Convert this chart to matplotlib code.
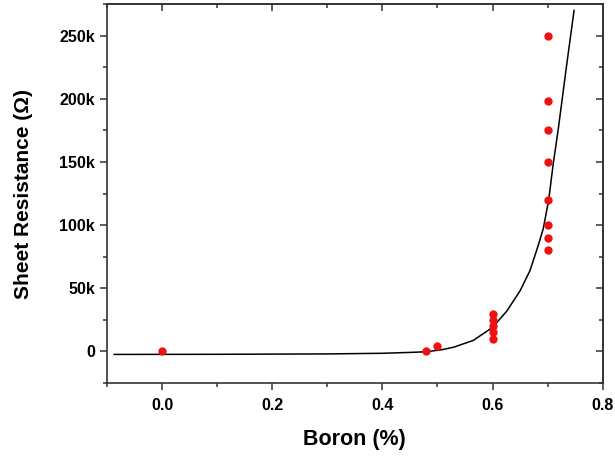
import matplotlib
matplotlib.use('Agg')
import matplotlib.pyplot as plt
from matplotlib.ticker import MultipleLocator, FuncFormatter

# Measured points
boron = [0.0, 0.48, 0.5, 0.6, 0.6, 0.6, 0.6, 0.6,
         0.7, 0.7, 0.7, 0.7, 0.7, 0.7, 0.7, 0.7]
resistance = [0, 500, 4000, 10000, 15000, 20000, 25000, 30000,
              80000, 90000, 100000, 120000, 150000, 175000, 198000, 250000]

# Fit curve
fit_x = [-0.087, 0.1, 0.3, 0.4, 0.45, 0.48, 0.51, 0.53, 0.565, 0.6,
         0.626, 0.65, 0.668, 0.683, 0.692, 0.702, 0.71, 0.719, 0.734, 0.748]
fit_y = [-2400, -2300, -2000, -1500, -800, -300, 1500, 3400, 8700, 19000,
         32000, 48000, 64000, 84000, 97000, 120000, 148000, 175000, 225000, 270000]

plt.rcParams['font.family'] = ['Liberation Sans', 'DejaVu Sans']

fig = plt.figure(figsize=(6.15, 4.57), dpi=100)
ax = fig.add_axes([0.174, 0.162, 0.806, 0.829])

ax.plot(fit_x, fit_y, color='black', linewidth=1.1, zorder=2)
ax.plot(boron, resistance, 'o', color='#ee1111', markersize=6,
        markeredgewidth=0, zorder=3)

ax.set_xlim(-0.1, 0.8)
ax.set_ylim(-25000, 275000)

ax.xaxis.set_major_locator(MultipleLocator(0.2))
ax.xaxis.set_minor_locator(MultipleLocator(0.1))
ax.yaxis.set_major_locator(MultipleLocator(50000))
ax.yaxis.set_minor_locator(MultipleLocator(25000))
ax.xaxis.set_major_formatter(FuncFormatter(lambda v, p: f'{v:.1f}'))
ax.yaxis.set_major_formatter(FuncFormatter(
    lambda v, p: '0' if v == 0 else f'{int(v / 1000)}k'))

ax.tick_params(which='major', direction='out', length=5, width=1.1,
               labelsize=11.5, color='#333333')
ax.tick_params(axis='x', which='major', pad=6)
ax.tick_params(which='minor', direction='out', length=3, width=1.1,
               color='#333333')
for lab in ax.get_xticklabels() + ax.get_yticklabels():
    lab.set_fontweight('bold')

# mirrored ticks on top and right, pointing inward
top = ax.secondary_xaxis('top')
top.xaxis.set_major_locator(MultipleLocator(0.2))
top.xaxis.set_minor_locator(MultipleLocator(0.1))
top.tick_params(which='major', direction='in', length=5, width=1.1,
                labeltop=False, color='#333333')
top.tick_params(which='minor', direction='in', length=3, width=1.1,
                color='#333333')
right = ax.secondary_yaxis('right')
right.yaxis.set_major_locator(MultipleLocator(50000))
right.yaxis.set_minor_locator(MultipleLocator(25000))
right.tick_params(which='major', direction='in', length=5, width=1.1,
                  labelright=False, color='#333333')
right.tick_params(which='minor', direction='in', length=3, width=1.1,
                  color='#333333')

for s in list(ax.spines.values()) + [top.spines['top'], right.spines['right']]:
    s.set_linewidth(1.2)
    s.set_color('#333333')

ax.set_xlabel('Boron (%)', fontsize=15.5, fontweight='bold', labelpad=11)
ax.set_ylabel('Sheet Resistance (Ω)', fontsize=15, fontweight='bold', labelpad=19)

plt.savefig('out.png', dpi=100, facecolor='white')
plt.close()
